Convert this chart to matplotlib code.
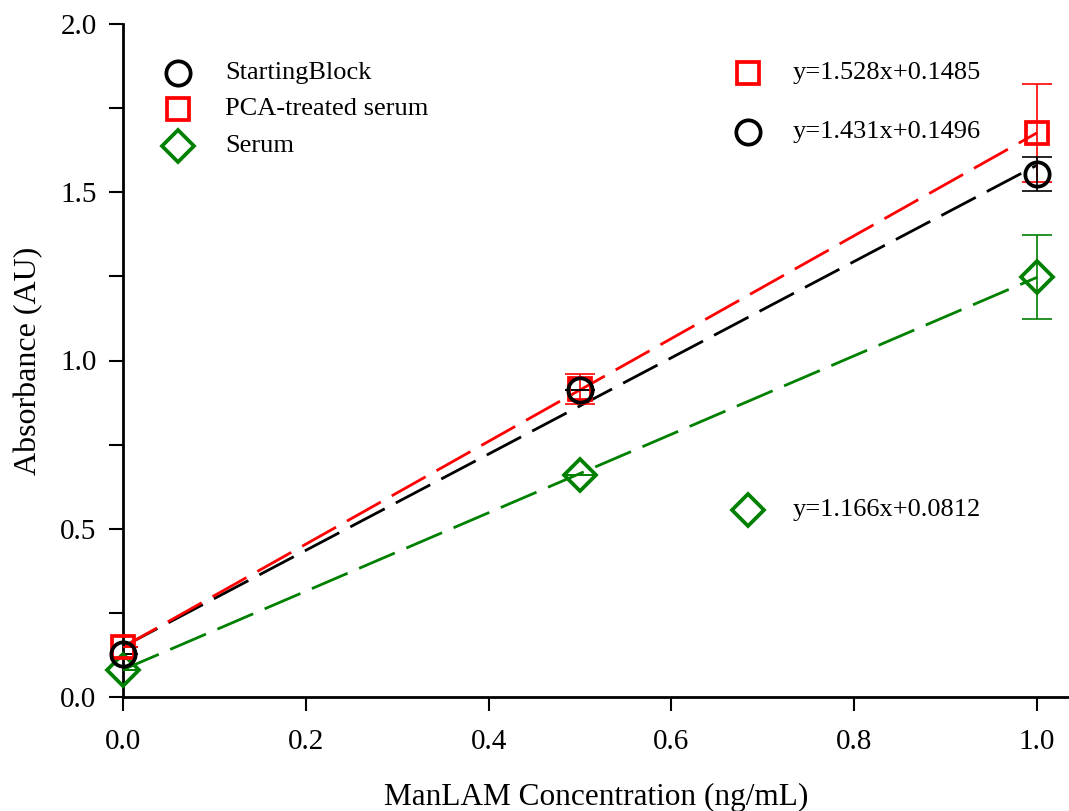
import numpy as np
import matplotlib.pyplot as plt
from matplotlib.ticker import MultipleLocator

plt.rcParams['font.family'] = ['Liberation Serif', 'DejaVu Serif']

# ManLAM standard curve, three blocking buffers
conc = [0.0, 0.5, 1.0]

sb_y = [0.128, 0.912, 1.555]
sb_err = [0.0, 0.0, 0.05]
pca_y = [0.150, 0.915, 1.676]
pca_err = [0.0, 0.045, 0.145]
serum_y = [0.080, 0.660, 1.248]
serum_err = [0.0, 0.0, 0.124]

# linear fits (slope, intercept)
sb_fit = (1.431, 0.1496)
pca_fit = (1.528, 0.1485)
serum_fit = (1.166, 0.0812)

labels = ['StartingBlock', 'PCA-treated serum', 'Serum']

fig = plt.figure(figsize=(10.69, 8.11), dpi=100)
ax = fig.add_axes([123/1069, 114/811, 1 - 123/1069, 673/811])

series = [
    (sb_y, sb_err, sb_fit, 'black', 'o', 17.5),
    (pca_y, pca_err, pca_fit, 'red', 's', 15.5),
    (serum_y, serum_err, serum_fit, 'green', 'D', 16),
]
mew = 2.7

xf = np.array([0.0, 1.0])
for y, err, fit, col, mk, ms in series:
    ax.plot(xf, fit[0]*xf + fit[1], color=col, lw=2.0, dashes=(14, 4.5),
            zorder=2, solid_capstyle='butt')
for y, err, fit, col, mk, ms in series[::-1]:
    ax.errorbar(conc, y, yerr=err, fmt='none', ecolor=col, elinewidth=1.2,
                capsize=11, capthick=1.2, zorder=3)
    ax.plot(conc, y, linestyle='none', marker=mk, ms=ms, mfc='none',
            mec=col, mew=mew, zorder=4, clip_on=False)

# legend block, top left
leg_y = [1.855, 1.747, 1.638]
for (y, err, fit, col, mk, ms), ly, lab in zip(series, leg_y, labels):
    ax.plot([0.06], [ly], linestyle='none', marker=mk, ms=ms, mfc='none',
            mec=col, mew=mew)
    ax.text(0.112, ly, lab, fontsize=19, va='center', ha='left')

# fit equations
eq_pos = [(series[1], 1.855, pca_fit), (series[0], 1.68, sb_fit),
          (series[2], 0.555, serum_fit)]
for s, ly, fit in eq_pos:
    col, mk, ms = s[3], s[4], s[5]
    ax.plot([0.684], [ly], linestyle='none', marker=mk, ms=ms, mfc='none',
            mec=col, mew=mew)
    ax.text(0.733, ly, 'y=%.3fx+%s' % (fit[0], ('%.4f' % fit[1])),
            fontsize=19, va='center', ha='left')

ax.set_xlim(0, (1069 - 123) / 914)
ax.set_ylim(0, 2.0)
ax.xaxis.set_major_locator(MultipleLocator(0.2))
ax.yaxis.set_major_locator(MultipleLocator(0.5))
ax.yaxis.set_minor_locator(MultipleLocator(0.25))
ax.xaxis.set_major_formatter(plt.FormatStrFormatter('%.1f'))
ax.yaxis.set_major_formatter(plt.FormatStrFormatter('%.1f'))
ax.tick_params(which='both', direction='out', length=10, width=1.5,
               labelsize=21, pad=9)
ax.tick_params(axis='x', pad=13)
for side in ['top', 'right']:
    ax.spines[side].set_visible(False)
for side in ['left', 'bottom']:
    ax.spines[side].set_linewidth(2)

ax.set_xlabel('ManLAM Concentration (ng/mL)', fontsize=22.5, labelpad=20)
ax.set_ylabel('Absorbance (AU)', fontsize=23, labelpad=12)

fig.savefig('out.png', dpi=100)
